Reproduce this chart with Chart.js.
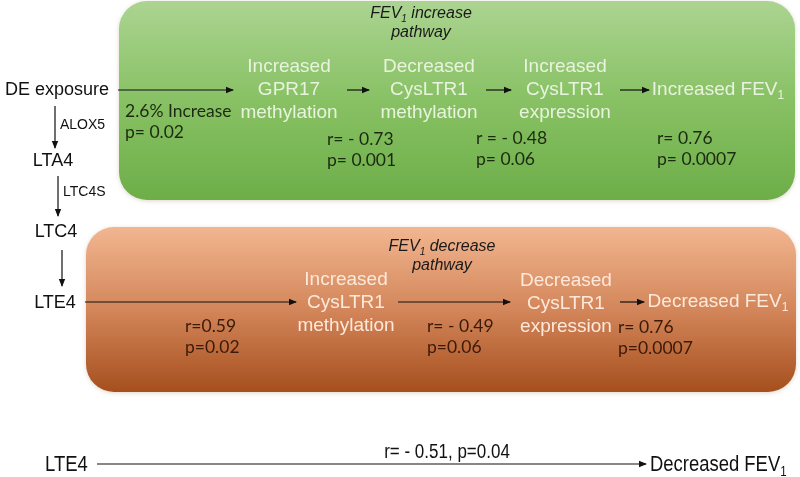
<!DOCTYPE html>
<html>
<head>
<meta charset="utf-8">
<script src="https://cdn.jsdelivr.net/npm/chart.js@4.4.1/dist/chart.umd.min.js"></script>
<style>
  html, body { margin: 0; background: #fff; }
  #wrap { width: 800px; height: 477px; }
</style>
</head>
<body>
<div id="wrap"><canvas id="diagram"></canvas></div>
<script>
// diagram units: x 0..800 left to right, y 0..477 top to bottom

// pathway boxes
const boxLeft = [119, 86];
const boxRight = [795, 796];
const boxTop = [1, 227];
const boxBottom = [200, 392];
const boxTitles = ['FEV_1 increase\npathway', 'FEV_1 decrease\npathway'];
const boxTitleX = [421, 442];
const boxTitleY = [14, 247];

// leukotriene chain on the left
const chainLabels = ['DE exposure', 'LTA4', 'LTC4', 'LTE4'];
const chainX = [109, 53, 56, 55];
const chainY = [90, 161, 232, 303];
const enzymeLabels = ['ALOX5', 'LTC4S'];
const enzymeX = [60, 63];
const enzymeY = [125, 192];

// pathway steps (centre of the middle line)
const stepLabels = [
  'Increased\nGPR17\nmethylation',
  'Decreased\nCysLTR1\nmethylation',
  'Increased\nCysLTR1\nexpression',
  'Increased FEV_1',
  'Increased\nCysLTR1\nmethylation',
  'Decreased\nCysLTR1\nexpression',
  'Decreased FEV_1'
];
const stepX = [289, 429, 565, 718, 346, 566, 718];
const stepY = [90, 90, 90, 90, 303, 304, 302];

// statistics (first line)
const statLabels = [
  '2.6% Increase\np= 0.02',
  'r= - 0.73\np= 0.001',
  'r = - 0.48\np= 0.06',
  'r= 0.76\np= 0.0007',
  'r=0.59\np=0.02',
  'r= - 0.49\np=0.06',
  'r= 0.76\np=0.0007'
];
const statX = [125, 327, 476, 657, 185, 427, 618];
const statY = [111, 139, 138, 138, 326, 326, 327];

// direct association at the bottom
const bottomLabels = ['LTE4', 'r= - 0.51, p=0.04', 'Decreased FEV_1'];
const bottomX = [45, 447, 650];
const bottomY = [465, 452, 465];

// arrows
const arrowX1 = [118, 347, 486, 620, 55, 58, 62, 85, 398, 620, 97];
const arrowY1 = [90, 90, 90, 90, 106, 176, 250, 302, 302, 302, 464];
const arrowX2 = [233, 369, 511, 649, 55, 58, 62, 296, 510, 644, 646];
const arrowY2 = [90, 90, 90, 90, 148, 216, 286, 302, 302, 302, 464];

const SANS = '"Liberation Sans", Arial, sans-serif';
const STAT = 'Lato, "Open Sans", sans-serif';

// text with "_1" turned into a subscript 1; sx squeezes it sideways
function drawRich(ctx, str, x, y, align, size, family, style, sx = 1) {
  const parts = str.split('_1');
  const mainFont = `${style} ${size}px ${family}`;
  const subFont = `${style} ${Math.round(size * 0.62)}px ${family}`;
  let w = 0;
  parts.forEach((p, i) => {
    ctx.font = mainFont; w += ctx.measureText(p).width;
    if (i < parts.length - 1) { ctx.font = subFont; w += ctx.measureText('1').width; }
  });
  const start = align === 'center' ? x - w * sx / 2 : align === 'right' ? x - w * sx : x;
  ctx.save();
  ctx.translate(start, y);
  ctx.scale(sx, 1);
  ctx.textAlign = 'left';
  ctx.textBaseline = 'middle';
  let cx = 0;
  parts.forEach((p, i) => {
    ctx.font = mainFont; ctx.fillText(p, cx, 0); cx += ctx.measureText(p).width;
    if (i < parts.length - 1) {
      ctx.font = subFont; ctx.fillText('1', cx, size * 0.3); cx += ctx.measureText('1').width;
    }
  });
  ctx.restore();
}

function drawLines(ctx, str, x, y, gap, align, size, family, style, centred) {
  const lines = str.split('\n');
  const start = centred ? y - gap * (lines.length - 1) / 2 : y;
  lines.forEach((l, i) => drawRich(ctx, l, x, start + i * gap, align, size, family, style));
}

function roundRect(ctx, x0, y0, x1, y1, r) {
  ctx.beginPath();
  ctx.moveTo(x0 + r, y0);
  ctx.arcTo(x1, y0, x1, y1, r);
  ctx.arcTo(x1, y1, x0, y1, r);
  ctx.arcTo(x0, y1, x0, y0, r);
  ctx.arcTo(x0, y0, x1, y0, r);
  ctx.closePath();
}

const boxColors = [
  ['#abd491', '#88c164', '#6dae48'],
  ['#f2b690', '#d3865a', '#a64f1e']
];
const stepColors = ['#e8f3de', '#e8f3de', '#e8f3de', '#e8f3de', '#fde9dc', '#fde9dc', '#fde9dc'];
const statColors = ['#1d2a12', '#1d2a12', '#1d2a12', '#1d2a12', '#3b1a08', '#3b1a08', '#3b1a08'];

const diagramPlugin = {
  id: 'diagram',
  beforeDatasetsDraw(chart) {
    const { ctx, scales: { x, y } } = chart;
    boxLeft.forEach((_, i) => {
      const x0 = x.getPixelForValue(boxLeft[i]), x1 = x.getPixelForValue(boxRight[i]);
      const y0 = y.getPixelForValue(boxTop[i]), y1 = y.getPixelForValue(boxBottom[i]);
      const g = ctx.createLinearGradient(0, y0, 0, y1);
      g.addColorStop(0, boxColors[i][0]);
      g.addColorStop(0.5, boxColors[i][1]);
      g.addColorStop(1, boxColors[i][2]);
      ctx.save();
      ctx.shadowColor = 'rgba(120,90,40,0.25)';
      ctx.shadowBlur = 4;
      ctx.shadowOffsetY = 1;
      roundRect(ctx, x0, y0, x1, y1, 28);
      ctx.fillStyle = g;
      ctx.fill();
      ctx.restore();
    });
  },
  afterDatasetsDraw(chart) {
    const { ctx, scales: { x, y } } = chart;
    ctx.save();
    // arrow heads at the end point of every line dataset
    chart.data.datasets.forEach((ds, i) => {
      const pts = chart.getDatasetMeta(i).data;
      const a = pts[0], b = pts[1];
      const ang = Math.atan2(b.y - a.y, b.x - a.x);
      ctx.save();
      ctx.translate(b.x, b.y);
      ctx.rotate(ang);
      ctx.beginPath();
      ctx.moveTo(1, 0);
      ctx.lineTo(-7, -3.2);
      ctx.lineTo(-7, 3.2);
      ctx.closePath();
      ctx.fillStyle = '#111';
      ctx.fill();
      ctx.restore();
    });

    ctx.fillStyle = '#1a1a1a';
    boxTitles.forEach((t, i) => {
      drawLines(ctx, t, x.getPixelForValue(boxTitleX[i]), y.getPixelForValue(boxTitleY[i]), 19, 'center', 16, SANS, 'italic', false);
    });

    chainLabels.forEach((t, i) => {
      ctx.fillStyle = '#111';
      drawRich(ctx, t, x.getPixelForValue(chainX[i]), y.getPixelForValue(chainY[i]), i === 0 ? 'right' : 'center', 18, SANS, 'normal');
    });
    enzymeLabels.forEach((t, i) => {
      ctx.fillStyle = '#111';
      drawRich(ctx, t, x.getPixelForValue(enzymeX[i]), y.getPixelForValue(enzymeY[i]), 'left', 14, SANS, 'normal');
    });

    stepLabels.forEach((t, i) => {
      ctx.fillStyle = stepColors[i];
      drawLines(ctx, t, x.getPixelForValue(stepX[i]), y.getPixelForValue(stepY[i]), 23, 'center', 19, SANS, 'normal', true);
    });

    statLabels.forEach((t, i) => {
      ctx.fillStyle = statColors[i];
      drawLines(ctx, t, x.getPixelForValue(statX[i]), y.getPixelForValue(statY[i]), 21.5, 'left', 17.5, STAT, 'normal', false);
    });

    bottomLabels.forEach((t, i) => {
      ctx.fillStyle = '#111';
      drawRich(ctx, t, x.getPixelForValue(bottomX[i]), y.getPixelForValue(bottomY[i]), i === 1 ? 'center' : 'left', i === 1 ? 20 : 22.5, SANS, 'normal', i === 1 ? 0.85 : 0.82);
    });
    ctx.restore();
  }
};

new Chart(document.getElementById('diagram'), {
  type: 'scatter',
  data: {
    datasets: arrowX1.map((_, i) => ({
      data: [{ x: arrowX1[i], y: arrowY1[i] }, { x: arrowX2[i], y: arrowY2[i] }],
      showLine: true,
      borderColor: '#111',
      borderWidth: 1.2,
      pointRadius: 0
    }))
  },
  options: {
    responsive: true,
    maintainAspectRatio: false,
    animation: false,
    layout: { padding: 0 },
    plugins: { legend: { display: false }, tooltip: { enabled: false } },
    scales: {
      x: { type: 'linear', min: 0, max: 800, display: false },
      y: { type: 'linear', min: 0, max: 477, reverse: true, display: false }
    }
  },
  plugins: [diagramPlugin]
});
</script>
</body>
</html>
